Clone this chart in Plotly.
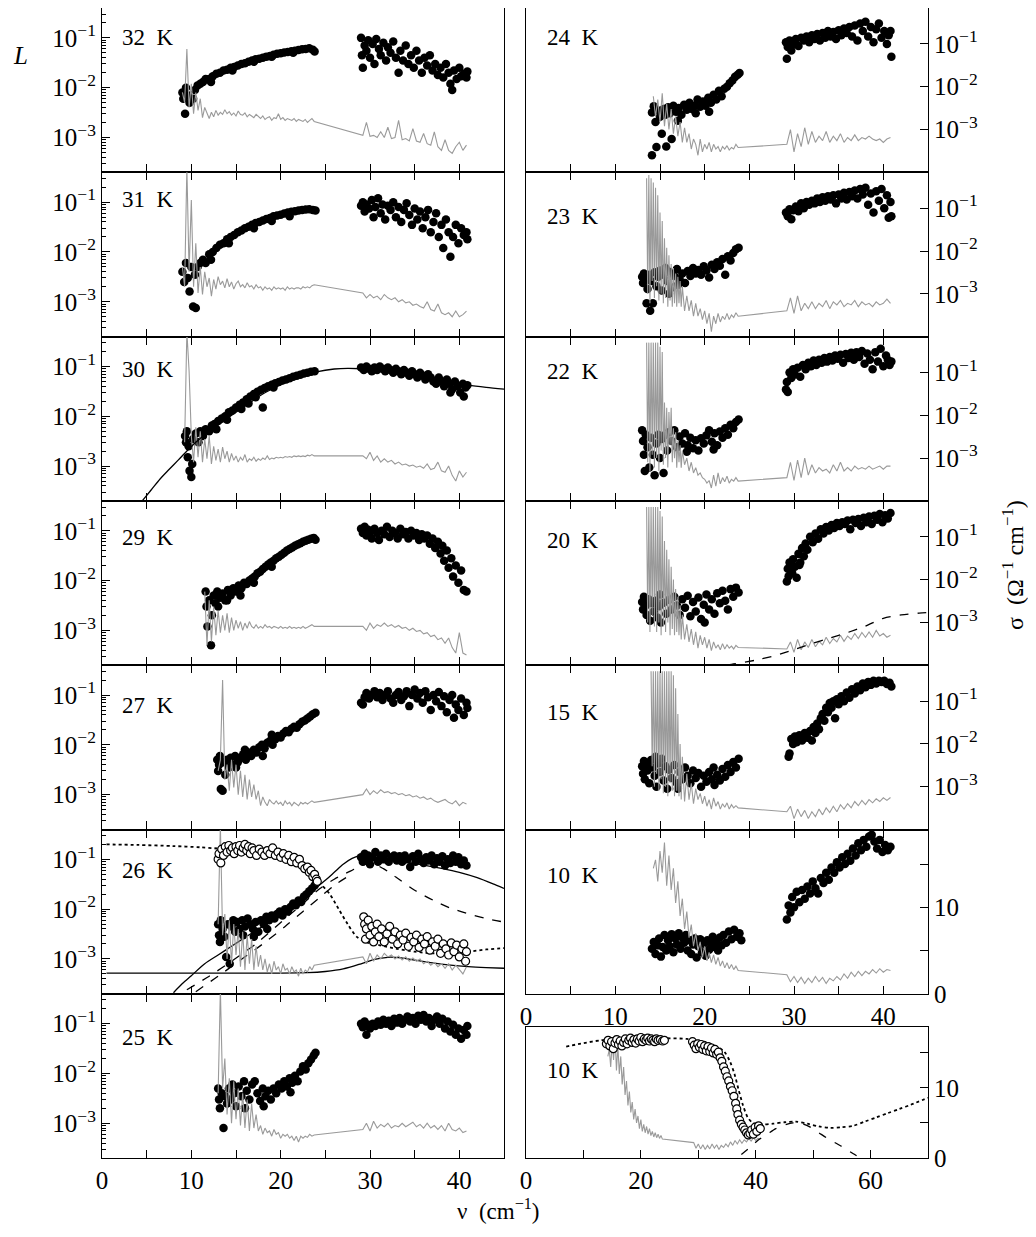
import plotly.graph_objects as go

# ---------------- shared frequency grids of the spectra (cm^-1) ----------------
GA = [9.0, 9.25, 9.5, 9.75, 10.0, 10.25, 10.5, 10.75, 11.0, 11.25, 11.5, 11.75, 12.0, 12.25,
      12.5, 12.75, 13.0, 13.25, 13.5, 13.75, 14.0, 14.25, 14.5, 14.75, 15.0, 15.25, 15.5, 15.75,
      16.0, 16.25, 16.5, 16.75, 17.0, 17.25, 17.5, 17.75, 18.0, 18.25, 18.5, 18.75, 19.0, 19.25,
      19.5, 19.75, 20.0, 20.25, 20.5, 20.75, 21.0, 21.25, 21.5, 21.75, 22.0, 22.25, 22.5, 22.75,
      23.0, 23.25, 23.5, 23.75]
# finer grid used where the low-temperature spectra oscillate strongly
GAF = [13.5, 13.625, 13.75, 13.875, 14.0, 14.125, 14.25, 14.375, 14.5, 14.625, 14.75, 14.875,
       15.0, 15.125, 15.25, 15.375, 15.5, 15.625, 15.75, 15.875, 16.0, 16.125, 16.25, 16.375,
       16.5, 16.625, 16.75, 16.875, 17.0, 17.125, 17.25, 17.375, 17.5, 17.75, 18.0, 18.25, 18.5,
       18.75, 19.0, 19.25, 19.5, 19.75, 20.0, 20.25, 20.5, 20.75, 21.0, 21.25, 21.5, 21.75, 22.0,
       22.25, 22.5, 22.75, 23.0, 23.25, 23.5, 23.75]
GB = [29.2, 29.6, 30.0, 30.4, 30.8, 31.2, 31.6, 32.0, 32.4, 32.8, 33.2, 33.6, 34.0, 34.4, 34.8,
      35.2, 35.6, 36.0, 36.4, 36.8, 37.2, 37.6, 38.0, 38.4, 38.8, 39.2, 39.6, 40.0, 40.4, 40.8]

# ---------------- 32 K ----------------
K32_LO = [(9.0, 8e-3), (9.1, 6e-3), (9.3, 3e-3), (9.4, 1e-2), (9.6, 7e-3), (9.8, 5e-3), (10.2, 6e-3),
          (10.4, 9e-3), (10.7, 1.1e-2), (11.0, 1.2e-2), (11.3, 1.3e-2), (11.6, 1.5e-2), (12.0, 1.5e-2),
          (12.2, 1.3e-2), (12.4, 1.7e-2), (12.8, 1.9e-2), (13.2, 2.0e-2), (13.6, 2.2e-2), (14.0, 2.3e-2),
          (14.4, 2.5e-2), (14.6, 2.2e-2), (14.8, 2.6e-2), (15.2, 2.8e-2), (15.6, 3.0e-2), (16.0, 3.1e-2),
          (16.4, 3.3e-2), (16.8, 3.5e-2), (17.0, 3.3e-2), (17.2, 3.7e-2), (17.6, 3.8e-2), (18.0, 4.0e-2),
          (18.4, 4.2e-2), (18.8, 4.3e-2), (19.0, 4.2e-2), (19.2, 4.6e-2), (19.6, 4.8e-2), (20.0, 4.9e-2),
          (20.4, 5.1e-2), (20.8, 5.2e-2), (21.2, 5.4e-2), (21.4, 5.0e-2), (21.6, 5.5e-2), (22.0, 5.7e-2),
          (22.4, 5.9e-2), (22.8, 6.0e-2), (23.2, 6.2e-2), (23.6, 5.8e-2), (23.8, 5.3e-2)]
K32_HI = [(29.0, 0.10), (29.1, 0.045), (29.2, 0.025), (29.4, 0.07), (29.6, 0.055), (29.8, 0.09),
          (30.0, 0.04), (30.3, 0.075), (30.5, 0.03), (30.7, 0.095), (31.0, 0.06), (31.2, 0.045),
          (31.5, 0.08), (31.8, 0.035), (32.0, 0.065), (32.3, 0.05), (32.6, 0.085), (32.9, 0.04),
          (33.2, 0.02), (33.4, 0.055), (33.7, 0.035), (34.0, 0.07), (34.3, 0.03), (34.6, 0.045),
          (34.9, 0.025), (35.2, 0.055), (35.5, 0.035), (35.8, 0.02), (36.1, 0.04), (36.4, 0.028),
          (36.7, 0.045), (37.0, 0.022), (37.3, 0.03), (37.6, 0.018), (37.9, 0.025), (38.2, 0.016),
          (38.5, 0.03), (38.8, 0.02), (39.0, 0.012), (39.2, 0.009), (39.4, 0.022), (39.7, 0.015),
          (40.0, 0.025), (40.2, 0.017), (40.5, 0.019), (40.8, 0.016), (40.9, 0.021)]
K32_GA = [8e-3, 5e-3, 6e-2, 4e-3, 1.2e-2, 3e-3, 8e-3, 3.5e-3, 6e-3, 2.5e-3, 4e-3, 3e-3, 2.4e-3, 3.2e-3,
          2.6e-3, 3.5e-3, 2.8e-3, 3.2e-3, 2.9e-3, 3.6e-3, 3.0e-3, 3.3e-3, 2.8e-3, 3.1e-3, 2.7e-3, 3.4e-3,
          2.9e-3, 2.8e-3, 3.1e-3, 2.6e-3, 2.9e-3, 2.7e-3, 2.5e-3, 2.9e-3, 2.6e-3, 2.4e-3, 2.7e-3, 2.3e-3,
          2.5e-3, 2.6e-3, 2.2e-3, 2.5e-3, 2.4e-3, 3.0e-3, 2.3e-3, 2.5e-3, 2.2e-3, 2.4e-3, 2.3e-3, 2.2e-3,
          2.4e-3, 2.1e-3, 2.3e-3, 2.2e-3, 2.1e-3, 2.3e-3, 2.0e-3, 2.2e-3, 2.4e-3, 2.1e-3]
K32_GB = [1.1e-3, 2.0e-3, 1.05e-3, 1.1e-3, 1.0e-3, 1.3e-3, 1.0e-3, 1.6e-3, 9.5e-4, 1.0e-3, 2.2e-3,
          9e-4, 9.5e-4, 8.5e-4, 1.5e-3, 8.5e-4, 8e-4, 1.2e-3, 7.5e-4, 7e-4, 1.3e-3, 6.5e-4, 5.5e-4,
          9e-4, 5.5e-4, 4.8e-4, 6.5e-4, 8e-4, 5.5e-4, 7e-4]

# ---------------- 31 K ----------------
K31_LO = [(9.0, 4e-3), (9.2, 2.5e-3), (9.4, 6e-3), (9.6, 3e-3), (9.8, 1.6e-3), (10.0, 5e-3),
          (10.2, 8e-4), (10.4, 3.5e-3), (10.5, 7.5e-4), (10.7, 5e-3), (11.0, 6e-3), (11.3, 7e-3),
          (11.6, 6e-3), (12.0, 9e-3), (12.2, 7e-3), (12.4, 1.0e-2), (12.8, 1.2e-2), (13.2, 1.4e-2),
          (13.6, 1.5e-2), (14.0, 1.8e-2), (14.2, 1.5e-2), (14.4, 2.0e-2), (14.8, 2.2e-2), (15.2, 2.5e-2),
          (15.6, 2.7e-2), (16.0, 3.0e-2), (16.4, 3.2e-2), (16.8, 3.5e-2), (17.0, 3.0e-2), (17.2, 3.8e-2),
          (17.6, 4.0e-2), (18.0, 4.3e-2), (18.4, 4.6e-2), (18.8, 4.8e-2), (19.0, 4.2e-2), (19.2, 5.2e-2),
          (19.6, 5.4e-2), (20.0, 5.6e-2), (20.4, 5.9e-2), (20.8, 6.2e-2), (21.0, 5.2e-2), (21.2, 6.4e-2),
          (21.6, 6.6e-2), (22.0, 6.8e-2), (22.4, 7.0e-2), (22.8, 7.1e-2), (23.2, 7.2e-2), (23.6, 7.0e-2),
          (23.9, 6.8e-2)]
K31_HI = [(29.0, 0.085), (29.2, 0.10), (29.4, 0.065), (29.6, 0.09), (29.9, 0.075), (30.2, 0.11),
          (30.4, 0.05), (30.6, 0.08), (30.9, 0.12), (31.2, 0.06), (31.4, 0.09), (31.7, 0.045),
          (32.0, 0.085), (32.3, 0.07), (32.6, 0.1), (32.9, 0.05), (33.2, 0.08), (33.5, 0.04),
          (33.8, 0.07), (34.1, 0.095), (34.4, 0.055), (34.7, 0.035), (35.0, 0.075), (35.3, 0.045),
          (35.6, 0.065), (35.9, 0.03), (36.2, 0.05), (36.5, 0.07), (36.8, 0.025), (37.1, 0.04),
          (37.4, 0.06), (37.7, 0.02), (38.0, 0.035), (38.2, 0.012), (38.5, 0.045), (38.8, 0.025),
          (39.0, 0.008), (39.3, 0.02), (39.6, 0.035), (39.9, 0.015), (40.2, 0.03), (40.5, 0.022),
          (40.8, 0.025), (40.9, 0.018)]
K31_GA = [5e-3, 2e-3, 0.5, 4e-3, 0.11, 2e-3, 1.5e-2, 1.5e-3, 5e-3, 1.4e-3, 4e-3, 2e-3, 3e-3, 1.3e-3,
          2.8e-3, 1.8e-3, 3.2e-3, 2.2e-3, 2.6e-3, 1.9e-3, 2.9e-3, 2.0e-3, 2.5e-3, 1.8e-3, 2.3e-3, 2.6e-3,
          2.0e-3, 2.2e-3, 1.9e-3, 2.4e-3, 2.0e-3, 2.1e-3, 1.8e-3, 2.2e-3, 1.9e-3, 2.0e-3, 1.7e-3, 2.0e-3,
          1.8e-3, 1.9e-3, 1.7e-3, 2.0e-3, 1.8e-3, 1.9e-3, 1.8e-3, 1.9e-3, 1.7e-3, 2.0e-3, 1.8e-3, 1.9e-3,
          1.8e-3, 1.9e-3, 1.9e-3, 1.8e-3, 2.0e-3, 1.9e-3, 2.0e-3, 1.9e-3, 2.1e-3, 2.2e-3]
K31_GB = [1.5e-3, 1.2e-3, 1.4e-3, 1.2e-3, 1.3e-3, 1.1e-3, 1.4e-3, 1.2e-3, 1.1e-3, 1.2e-3, 1.0e-3,
          1.1e-3, 9.5e-4, 1.0e-3, 8.5e-4, 9e-4, 8e-4, 7.5e-4, 1.0e-3, 7e-4, 6.5e-4, 9e-4, 6e-4, 5.5e-4,
          6e-4, 5e-4, 6.5e-4, 5e-4, 5.5e-4, 6.5e-4]

# ---------------- 30 K ----------------
K30_LO = [(9.3, 4e-3), (9.4, 3e-3), (9.5, 5e-3), (9.6, 1.5e-3), (9.7, 2.5e-3), (9.8, 8e-4),
          (10.0, 6e-4), (10.1, 1.1e-3), (10.2, 3.5e-3), (10.5, 4.5e-3), (10.8, 3e-3), (11.0, 5e-3),
          (11.3, 4e-3), (11.6, 5.5e-3), (12.0, 5e-3), (12.3, 6.5e-3), (12.6, 7e-3), (12.8, 5.5e-3),
          (13.0, 8e-3), (13.4, 9e-3), (13.8, 1.0e-2), (14.0, 8.5e-3), (14.2, 1.2e-2), (14.6, 1.3e-2),
          (15.0, 1.5e-2), (15.4, 1.7e-2), (15.6, 1.4e-2), (15.8, 1.9e-2), (16.2, 2.2e-2), (16.4, 1.8e-2),
          (16.6, 2.5e-2), (17.0, 2.8e-2), (17.2, 2.4e-2), (17.4, 3.1e-2), (17.8, 3.4e-2), (18.0, 1.5e-2),
          (18.2, 3.7e-2), (18.6, 4.0e-2), (19.0, 4.3e-2), (19.2, 3.8e-2), (19.4, 4.6e-2), (19.8, 4.9e-2),
          (20.2, 5.2e-2), (20.6, 5.5e-2), (21.0, 5.8e-2), (21.4, 6.2e-2), (21.8, 6.5e-2), (22.2, 6.8e-2),
          (22.6, 7.2e-2), (23.0, 7.5e-2), (23.4, 7.8e-2), (23.8, 8.0e-2)]
K30_HI = [(29.0, 0.095), (29.3, 0.085), (29.6, 0.1), (29.9, 0.09), (30.2, 0.08), (30.5, 0.095),
          (30.8, 0.085), (31.1, 0.1), (31.4, 0.09), (31.7, 0.08), (32.0, 0.095), (32.3, 0.085),
          (32.6, 0.075), (32.9, 0.09), (33.2, 0.08), (33.5, 0.07), (33.8, 0.085), (34.1, 0.075),
          (34.4, 0.065), (34.7, 0.08), (35.0, 0.07), (35.3, 0.06), (35.6, 0.075), (35.9, 0.065),
          (36.2, 0.055), (36.5, 0.07), (36.8, 0.06), (37.1, 0.05), (37.4, 0.045), (37.7, 0.06),
          (38.0, 0.05), (38.3, 0.04), (38.6, 0.055), (38.9, 0.045), (39.0, 0.03), (39.2, 0.035),
          (39.5, 0.05), (39.8, 0.04), (40.1, 0.03), (40.4, 0.045), (40.5, 0.025), (40.7, 0.038),
          (40.9, 0.042)]
K30_GA = [3e-3, 0.5, 0.08, 4e-3, 1.2e-3, 6e-3, 1.5e-3, 5e-3, 1.2e-3, 3.5e-3, 1.4e-3, 4e-3, 1.1e-3,
          2.5e-3, 1.3e-3, 2.2e-3, 1.2e-3, 2.4e-3, 1.4e-3, 2.0e-3, 1.2e-3, 1.8e-3, 1.3e-3, 1.6e-3, 1.2e-3,
          1.5e-3, 1.3e-3, 1.7e-3, 1.2e-3, 1.4e-3, 1.3e-3, 1.5e-3, 1.25e-3, 1.4e-3, 1.3e-3, 1.45e-3,
          1.35e-3, 1.6e-3, 1.35e-3, 1.45e-3, 1.4e-3, 1.5e-3, 1.45e-3, 1.5e-3, 1.45e-3, 1.55e-3, 1.5e-3,
          1.55e-3, 1.5e-3, 1.6e-3, 1.55e-3, 1.6e-3, 1.55e-3, 1.6e-3, 1.55e-3, 1.65e-3, 1.6e-3, 1.7e-3,
          1.6e-3]
K30_GB = [1.6e-3, 1.4e-3, 1.9e-3, 1.3e-3, 1.6e-3, 1.2e-3, 1.4e-3, 1.2e-3, 1.3e-3, 1.1e-3, 1.2e-3,
          1.05e-3, 1.1e-3, 1.0e-3, 1.05e-3, 9.5e-4, 1.0e-3, 9e-4, 1.1e-3, 8.5e-4, 9e-4, 1.2e-3, 8e-4,
          7.5e-4, 1.0e-3, 6.5e-4, 5e-4, 8e-4, 6e-4, 7.5e-4]
K30_FIT = [(4.5, 2e-4), (5.5, 3.3e-4), (6.5, 5.5e-4), (7.5, 8.5e-4), (8.5, 1.3e-3), (9.5, 2.0e-3),
           (10.5, 3.0e-3), (12.0, 5e-3), (14.0, 9e-3), (16.0, 1.6e-2), (18.0, 2.8e-2), (20.0, 4.3e-2),
           (22.0, 6.2e-2), (24.0, 7.8e-2), (26.0, 8.9e-2), (27.5, 9.2e-2), (29.0, 9.0e-2), (31.0, 8.2e-2),
           (33.0, 7.2e-2), (35.0, 6.3e-2), (37.0, 5.5e-2), (39.0, 4.8e-2), (41.0, 4.2e-2), (43.0, 3.8e-2),
           (45.0, 3.5e-2)]

# ---------------- 29 K ----------------
K29_LO = [(11.6, 6e-3), (11.7, 3e-3), (11.8, 1.2e-3), (12.0, 4e-3), (12.2, 5e-4), (12.3, 2e-3),
          (12.5, 5e-3), (12.7, 3.5e-3), (12.9, 6e-3), (13.0, 3e-3), (13.2, 4.5e-3), (13.5, 5.5e-3),
          (13.8, 4e-3), (14.0, 4e-3), (14.1, 6.5e-3), (14.4, 5e-3), (14.7, 7e-3), (15.0, 6e-3),
          (15.3, 8e-3), (15.5, 5e-3), (15.6, 7e-3), (15.9, 9e-3), (16.2, 8.5e-3), (16.5, 1.0e-2),
          (16.8, 1.1e-2), (17.0, 9e-3), (17.1, 1.2e-2), (17.4, 1.4e-2), (17.7, 1.5e-2), (18.0, 1.7e-2),
          (18.3, 1.9e-2), (18.6, 2.1e-2), (18.9, 2.3e-2), (19.0, 1.9e-2), (19.2, 2.5e-2), (19.5, 2.8e-2),
          (19.8, 3.0e-2), (20.1, 3.3e-2), (20.4, 3.6e-2), (20.7, 4.0e-2), (21.0, 4.3e-2), (21.3, 4.6e-2),
          (21.6, 5.0e-2), (21.9, 5.3e-2), (22.2, 5.6e-2), (22.5, 6.0e-2), (22.8, 6.3e-2), (23.1, 6.6e-2),
          (23.4, 6.9e-2), (23.7, 7.2e-2), (23.9, 6.6e-2)]
K29_HI = [(29.0, 0.11), (29.2, 0.09), (29.4, 0.12), (29.6, 0.08), (29.8, 0.105), (30.0, 0.095),
          (30.2, 0.07), (30.5, 0.11), (30.8, 0.09), (31.0, 0.065), (31.3, 0.1), (31.6, 0.085),
          (31.9, 0.12), (32.2, 0.075), (32.5, 0.1), (32.8, 0.09), (33.1, 0.07), (33.4, 0.11),
          (33.7, 0.085), (34.0, 0.095), (34.3, 0.07), (34.6, 0.1), (34.9, 0.08), (35.2, 0.09),
          (35.5, 0.065), (35.8, 0.085), (36.1, 0.07), (36.4, 0.08), (36.7, 0.055), (37.0, 0.07),
          (37.3, 0.045), (37.6, 0.06), (37.9, 0.035), (38.1, 0.05), (38.3, 0.025), (38.6, 0.04),
          (38.8, 0.018), (39.1, 0.028), (39.3, 0.012), (39.6, 0.02), (39.9, 0.009), (40.2, 0.016),
          (40.5, 0.0065), (40.8, 0.006)]
K29_GA = [6e-3, 5e-4, 4e-3, 6e-4, 3e-3, 8e-4, 2.5e-3, 9e-4, 2e-3, 1e-3, 2.2e-3, 9e-4, 1.8e-3, 1.0e-3,
          1.6e-3, 1.1e-3, 1.5e-3, 1.0e-3, 1.4e-3, 1.1e-3, 1.5e-3, 1.2e-3, 1.1e-3, 1.3e-3, 1.1e-3, 1.2e-3,
          1.1e-3, 1.3e-3, 1.15e-3, 1.2e-3, 1.1e-3, 1.2e-3, 1.15e-3, 1.1e-3, 1.2e-3, 1.1e-3, 1.15e-3,
          1.1e-3, 1.2e-3, 1.1e-3, 1.15e-3, 1.1e-3, 1.15e-3, 1.1e-3, 1.2e-3, 1.1e-3, 1.15e-3, 1.2e-3,
          1.3e-3, 1.2e-3]
K29_GB = [1.2e-3, 1.0e-3, 1.4e-3, 1.1e-3, 1.3e-3, 1.2e-3, 1.4e-3, 1.2e-3, 1.3e-3, 1.15e-3, 1.25e-3,
          1.1e-3, 1.15e-3, 1.0e-3, 1.1e-3, 9.5e-4, 1.0e-3, 8.5e-4, 9e-4, 7.5e-4, 8e-4, 6.5e-4, 7e-4,
          5.5e-4, 7e-4, 4.5e-4, 3.5e-4, 9e-4, 3.5e-4, 3.2e-4]

# ---------------- 27 K ----------------
K27_LO = [(12.9, 5e-3), (13.0, 3e-3), (13.1, 4e-3), (13.2, 6e-3), (13.3, 1.3e-3), (13.5, 1.2e-3),
          (13.6, 4.5e-3), (13.8, 2.5e-3), (14.0, 5e-3), (14.2, 3.5e-3), (14.4, 5.5e-3), (14.6, 4e-3),
          (14.9, 6e-3), (15.0, 3.5e-3), (15.2, 4.5e-3), (15.5, 5.5e-3), (15.8, 6.5e-3), (16.0, 8e-3),
          (16.1, 5e-3), (16.4, 7e-3), (16.7, 6e-3), (17.0, 8e-3), (17.3, 7e-3), (17.6, 9e-3),
          (17.9, 1.0e-2), (18.0, 6e-3), (18.2, 8.5e-3), (18.5, 1.1e-2), (18.8, 1.2e-2), (19.0, 1.6e-2),
          (19.1, 1.0e-2), (19.4, 1.3e-2), (19.7, 1.5e-2), (20.0, 1.4e-2), (20.3, 1.7e-2), (20.6, 1.9e-2),
          (20.9, 1.8e-2), (21.2, 2.1e-2), (21.5, 2.3e-2), (21.8, 2.2e-2), (22.1, 2.6e-2), (22.4, 2.9e-2),
          (22.7, 3.1e-2), (23.0, 3.4e-2), (23.3, 3.7e-2), (23.6, 4.1e-2), (23.9, 4.4e-2)]
K27_HI = [(29.0, 0.07), (29.2, 0.065), (29.4, 0.09), (29.6, 0.11), (29.9, 0.085), (30.2, 0.1),
          (30.5, 0.12), (30.8, 0.09), (31.1, 0.11), (31.4, 0.08), (31.7, 0.1), (32.0, 0.12),
          (32.3, 0.085), (32.6, 0.07), (32.9, 0.1), (33.2, 0.115), (33.5, 0.08), (33.8, 0.095),
          (34.1, 0.12), (34.4, 0.06), (34.7, 0.1), (35.0, 0.13), (35.3, 0.085), (35.6, 0.11),
          (35.9, 0.07), (36.2, 0.12), (36.5, 0.09), (36.8, 0.05), (37.1, 0.1), (37.4, 0.075),
          (37.7, 0.115), (38.0, 0.06), (38.3, 0.095), (38.6, 0.045), (38.9, 0.08), (39.2, 0.1),
          (39.4, 0.035), (39.6, 0.065), (39.9, 0.05), (40.2, 0.085), (40.5, 0.04), (40.8, 0.07),
          (40.9, 0.055)]
K27_GA = [3e-3, 5e-3, 0.2, 2e-3, 4e-3, 1.2e-3, 5e-3, 1.4e-3, 4e-3, 1.0e-3, 3e-3, 9e-4, 2.5e-3, 8e-4,
          2e-3, 9e-4, 1.6e-3, 8e-4, 1.2e-3, 6e-4, 9e-4, 7e-4, 6e-4, 8e-4, 7e-4, 6.5e-4, 7.5e-4, 6.5e-4,
          7e-4, 6e-4, 7.5e-4, 6.5e-4, 7e-4, 6e-4, 7e-4, 6.5e-4, 6e-4, 7e-4, 6.5e-4, 7e-4, 6.5e-4, 7e-4,
          7.5e-4, 7e-4]
K27_GB = [1.0e-3, 1.3e-3, 1.0e-3, 1.2e-3, 1.05e-3, 1.25e-3, 1.1e-3, 1.15e-3, 1.05e-3, 1.1e-3, 1.0e-3,
          1.05e-3, 9.5e-4, 1.0e-3, 9e-4, 9.5e-4, 8.5e-4, 9e-4, 8e-4, 8.5e-4, 7.5e-4, 7e-4, 7.5e-4,
          8e-4, 7e-4, 6.5e-4, 7.5e-4, 6e-4, 7e-4, 6.5e-4]

# ---------------- 26 K ----------------
K26_LO = [(13.0, 5e-3), (13.1, 3e-3), (13.2, 2.2e-3), (13.3, 6e-3), (13.5, 4e-3), (13.7, 2.8e-3),
          (13.9, 1.1e-3), (14.1, 5e-3), (14.3, 8e-4), (14.5, 4.5e-3), (14.7, 6e-3), (14.9, 3.5e-3),
          (15.1, 5.5e-3), (15.4, 4e-3), (15.7, 6e-3), (15.8, 3e-3), (16.0, 4.5e-3), (16.3, 6.5e-3),
          (16.6, 5e-3), (16.9, 4e-3), (17.0, 2.8e-3), (17.2, 5.5e-3), (17.5, 3.5e-3), (17.8, 6e-3),
          (18.1, 5e-3), (18.4, 7e-3), (18.5, 4e-3), (18.7, 6e-3), (19.0, 7.5e-3), (19.3, 6.5e-3),
          (19.6, 8e-3), (19.9, 9e-3), (20.2, 7.5e-3), (20.5, 1.0e-2), (20.8, 9e-3), (21.1, 1.1e-2),
          (21.4, 1.3e-2), (21.7, 1.2e-2), (22.0, 1.5e-2), (22.3, 1.4e-2), (22.6, 1.8e-2), (22.9, 2.0e-2),
          (23.2, 2.3e-2), (23.5, 2.6e-2), (23.8, 3.0e-2), (24.0, 3.4e-2)]
K26_HI = [(29.0, 0.11), (29.2, 0.09), (29.4, 0.13), (29.6, 0.1), (29.8, 0.12), (30.0, 0.08),
          (30.3, 0.11), (30.6, 0.14), (30.9, 0.09), (31.2, 0.12), (31.5, 0.1), (31.8, 0.13),
          (32.1, 0.09), (32.4, 0.11), (32.7, 0.12), (33.0, 0.095), (33.3, 0.115), (33.6, 0.09),
          (33.9, 0.12), (34.2, 0.1), (34.5, 0.07), (34.8, 0.115), (35.1, 0.09), (35.4, 0.13),
          (35.7, 0.1), (36.0, 0.085), (36.3, 0.11), (36.6, 0.095), (36.9, 0.12), (37.2, 0.08),
          (37.5, 0.105), (37.8, 0.09), (38.1, 0.115), (38.4, 0.075), (38.7, 0.1), (39.0, 0.085),
          (39.3, 0.12), (39.6, 0.09), (39.9, 0.11), (40.2, 0.08), (40.5, 0.095), (40.8, 0.075)]
K26_OPEN_LO = [(13.0, 0.1), (13.1, 0.13), (13.3, 0.085), (13.4, 0.16), (13.6, 0.12), (13.8, 0.18),
               (14.0, 0.14), (14.2, 0.19), (14.4, 0.15), (14.6, 0.17), (14.8, 0.13), (15.0, 0.18),
               (15.2, 0.15), (15.4, 0.19), (15.6, 0.14), (15.8, 0.17), (16.0, 0.2), (16.2, 0.15),
               (16.4, 0.18), (16.6, 0.13), (16.8, 0.17), (17.0, 0.15), (17.3, 0.12), (17.6, 0.16),
               (17.9, 0.14), (18.2, 0.12), (18.5, 0.15), (18.8, 0.13), (19.1, 0.17), (19.4, 0.12),
               (19.7, 0.14), (20.0, 0.11), (20.3, 0.13), (20.6, 0.1), (20.9, 0.12), (21.2, 0.09),
               (21.5, 0.11), (21.8, 0.085), (22.1, 0.1), (22.4, 0.075), (22.7, 0.065), (23.0, 0.07),
               (23.2, 0.055), (23.4, 0.06), (23.6, 0.045), (23.8, 0.05), (24.0, 0.04), (24.1, 0.036)]
K26_OPEN_HI = [(29.3, 7e-3), (29.4, 5e-3), (29.5, 2.5e-3), (29.6, 4e-3), (29.8, 6e-3), (30.0, 3e-3),
               (30.2, 4.5e-3), (30.4, 2.2e-3), (30.6, 3.5e-3), (30.8, 5e-3), (31.0, 2.8e-3), (31.3, 4e-3),
               (31.6, 2.2e-3), (31.9, 3.2e-3), (32.2, 4.5e-3), (32.5, 2.5e-3), (32.8, 3.5e-3), (33.1, 2e-3),
               (33.4, 3e-3), (33.7, 2.4e-3), (34.0, 3.3e-3), (34.3, 1.8e-3), (34.6, 2.7e-3), (34.9, 2.2e-3),
               (35.2, 3e-3), (35.5, 1.7e-3), (35.8, 2.5e-3), (36.1, 2e-3), (36.4, 2.8e-3), (36.7, 1.5e-3),
               (37.0, 2.2e-3), (37.3, 1.8e-3), (37.6, 2.5e-3), (37.9, 1.3e-3), (38.2, 2e-3), (38.5, 1.6e-3),
               (38.8, 1.2e-3), (39.1, 2.1e-3), (39.4, 1.4e-3), (39.7, 1.9e-3), (40.0, 1.1e-3), (40.3, 1.6e-3),
               (40.5, 2e-3), (40.7, 9e-4), (40.8, 1.4e-3)]
K26_GA = [5e-3, 0.5, 3e-3, 8e-3, 1e-3, 6e-3, 8e-4, 5e-3, 1.2e-3, 4e-3, 7e-4, 3.5e-3, 6e-4, 3e-3, 8e-4,
          2.5e-3, 6e-4, 1.8e-3, 7e-4, 1.2e-3, 6e-4, 1.0e-3, 5.5e-4, 8e-4, 5e-4, 9e-4, 6e-4, 7e-4, 5e-4,
          8e-4, 6e-4, 6.5e-4, 5e-4, 7e-4, 5.5e-4, 6e-4, 4.5e-4, 6.5e-4, 5e-4, 6e-4, 5.5e-4, 7e-4, 6e-4,
          7.5e-4]
K26_GB = [1.1e-3, 8e-4, 1.3e-3, 9e-4, 1.2e-3, 1.0e-3, 1.3e-3, 1.1e-3, 1.2e-3, 1.0e-3, 1.15e-3, 9.5e-4,
          1.1e-3, 9e-4, 1.05e-3, 9e-4, 1.0e-3, 8e-4, 9e-4, 7.5e-4, 8.5e-4, 7e-4, 8e-4, 6.5e-4, 8e-4,
          6e-4, 7.5e-4, 6e-4, 5e-4, 7e-4]
K26_DOTTED = [(0.5, 0.2), (4.0, 0.195), (8.0, 0.185), (11.0, 0.175), (13.0, 0.165), (15.0, 0.155),
              (17.0, 0.14), (19.0, 0.125), (21.0, 0.1), (22.5, 0.075), (23.5, 0.05), (24.5, 0.032),
              (25.5, 0.02), (26.5, 0.01), (27.5, 5e-3), (28.5, 2.8e-3), (29.5, 2.2e-3), (31.0, 1.9e-3),
              (33.0, 1.6e-3), (35.0, 1.4e-3), (37.0, 1.3e-3), (39.0, 1.3e-3), (41.0, 1.4e-3),
              (43.0, 1.55e-3), (45.0, 1.65e-3)]
K26_FIT = [(8.0, 2.1e-4), (9.0, 3.2e-4), (10.0, 4.6e-4), (11.5, 8e-4), (13.0, 1.2e-3), (14.5, 1.8e-3),
           (16.0, 2.7e-3), (17.5, 4e-3), (19.0, 5.8e-3), (20.5, 8.5e-3), (22.0, 1.4e-2), (23.5, 2.3e-2),
           (25.0, 3.8e-2), (26.0, 5.5e-2), (27.0, 8e-2), (28.0, 0.105), (29.0, 0.12), (30.0, 0.115),
           (32.0, 0.1), (34.0, 0.088), (36.0, 0.077), (38.0, 0.066), (40.0, 0.055), (42.0, 0.043),
           (44.0, 0.031), (45.0, 0.026)]
K26_DASH1 = [(9.5, 2.4e-4), (12.0, 4.5e-4), (14.7, 9.5e-4), (17.5, 2.2e-3), (20.3, 6e-3), (22.5, 1.3e-2),
             (24.4, 2.6e-2), (26.0, 4e-2), (27.8, 5.8e-2), (29.0, 7.5e-2), (30.2, 8.3e-2), (31.5, 6.5e-2),
             (33.4, 3.8e-2), (35.0, 2.4e-2), (37.1, 1.5e-2), (39.0, 1.05e-2), (40.8, 8.3e-3),
             (43.0, 6.5e-3), (45.0, 5.5e-3)]
K26_DASH2 = [(10.5, 2.2e-4), (13.0, 4.5e-4), (15.5, 9.5e-4), (18.0, 2e-3), (20.5, 4.5e-3), (22.5, 9e-3),
             (24.5, 1.8e-2), (26.0, 3e-2), (27.5, 4.5e-2)]
K26_BASE = [(0.5, 5.2e-4), (10.0, 5.2e-4), (20.0, 5.2e-4), (23.0, 5.3e-4), (25.0, 5.6e-4), (27.0, 6.3e-4),
            (29.0, 8e-4), (30.5, 9.8e-4), (32.0, 1.08e-3), (33.5, 1.05e-3), (35.0, 9.5e-4), (37.0, 8.3e-4),
            (39.0, 7.5e-4), (41.0, 7e-4), (43.0, 6.7e-4), (45.0, 6.5e-4)]

# ---------------- 25 K ----------------
K25_LO = [(13.0, 5e-3), (13.1, 3e-3), (13.2, 2e-3), (13.4, 4e-3), (13.6, 8e-4), (13.8, 3.5e-3),
          (14.0, 2.5e-3), (14.2, 5e-3), (14.4, 3e-3), (14.6, 6e-3), (14.8, 4e-3), (15.0, 2.2e-3),
          (15.3, 5.5e-3), (15.6, 3.5e-3), (15.9, 7e-3), (16.0, 2e-3), (16.2, 4.5e-3), (16.5, 3e-3),
          (16.8, 6e-3), (17.1, 7e-3), (17.4, 4e-3), (17.7, 2.8e-3), (18.0, 5e-3), (18.1, 2.2e-3),
          (18.3, 3.5e-3), (18.6, 4.5e-3), (18.9, 3e-3), (19.2, 5e-3), (19.5, 4e-3), (19.8, 6e-3),
          (20.1, 5e-3), (20.4, 7e-3), (20.7, 5.5e-3), (21.0, 8e-3), (21.1, 4.2e-3), (21.3, 6.5e-3),
          (21.6, 9e-3), (21.9, 7e-3), (22.2, 1.1e-2), (22.5, 1.4e-2), (22.8, 1.2e-2), (23.1, 1.6e-2),
          (23.4, 1.9e-2), (23.7, 2.3e-2), (23.9, 2.6e-2)]
K25_HI = [(29.0, 0.1), (29.2, 0.085), (29.4, 0.11), (29.6, 0.06), (29.8, 0.095), (30.0, 0.08),
          (30.3, 0.1), (30.6, 0.09), (30.9, 0.11), (31.2, 0.095), (31.5, 0.12), (31.8, 0.1),
          (32.1, 0.115), (32.4, 0.09), (32.7, 0.125), (33.0, 0.105), (33.3, 0.13), (33.6, 0.1),
          (33.9, 0.12), (34.2, 0.14), (34.5, 0.11), (34.8, 0.13), (35.1, 0.1), (35.4, 0.145),
          (35.7, 0.12), (36.0, 0.15), (36.3, 0.11), (36.6, 0.13), (36.9, 0.09), (37.2, 0.12),
          (37.5, 0.14), (37.8, 0.1), (38.1, 0.125), (38.4, 0.08), (38.7, 0.11), (39.0, 0.07),
          (39.3, 0.095), (39.6, 0.06), (39.9, 0.08), (40.2, 0.05), (40.5, 0.075), (40.8, 0.06),
          (40.9, 0.09)]
K25_GA = [4e-3, 0.5, 5e-3, 2e-2, 1.5e-3, 8e-3, 1e-3, 7e-3, 1.2e-3, 5e-3, 9e-4, 4e-3, 8e-4, 3e-3, 7e-4,
          2.5e-3, 8e-4, 1.5e-3, 7e-4, 9e-4, 6e-4, 8e-4, 6.5e-4, 7e-4, 5.5e-4, 7.5e-4, 6e-4, 6.5e-4, 5e-4,
          6e-4, 5.5e-4, 6e-4, 5e-4, 5.5e-4, 4.5e-4, 5.5e-4, 4.2e-4, 5.5e-4, 5e-4, 5.5e-4, 5.2e-4, 6e-4,
          5.5e-4, 5.8e-4]
K25_GB = [7.5e-4, 1.0e-3, 7e-4, 1.1e-3, 8e-4, 9.5e-4, 8.5e-4, 1.0e-3, 8e-4, 9e-4, 8.5e-4, 1.0e-3, 8.5e-4,
          9.5e-4, 1.05e-3, 8.5e-4, 9.5e-4, 8e-4, 1.0e-3, 8e-4, 9e-4, 7.5e-4, 9e-4, 7e-4, 1.0e-3, 7.5e-4,
          7e-4, 8e-4, 6.5e-4, 7e-4]

# ---------------- 24 K ----------------
K24_LO = [(14.1, 2.5e-3), (14.1, 2.5e-4), (14.3, 3.5e-3), (14.5, 1.5e-3), (14.6, 3.9e-4), (14.8, 2.8e-3),
          (15.0, 2e-3), (15.2, 8e-4), (15.4, 3e-3), (15.6, 2.2e-3), (15.7, 4e-4), (15.9, 3.3e-3),
          (16.1, 2.4e-3), (16.3, 6e-4), (16.5, 3.6e-3), (16.8, 2.6e-3), (17.0, 1.6e-3), (17.1, 3.2e-3),
          (17.4, 2.2e-3), (17.7, 3.8e-3), (18.0, 2.9e-3), (18.3, 4.2e-3), (18.6, 3e-3), (18.9, 3.6e-3),
          (19.0, 2.4e-3), (19.2, 5e-3), (19.5, 3.4e-3), (19.8, 4.5e-3), (20.1, 3.6e-3), (20.4, 5.5e-3),
          (20.5, 2.6e-3), (20.7, 4.2e-3), (21.0, 6.5e-3), (21.3, 5e-3), (21.6, 8e-3), (21.9, 6e-3),
          (22.2, 9e-3), (22.5, 1.0e-2), (22.8, 1.2e-2), (23.1, 1.4e-2), (23.4, 1.7e-2), (23.7, 1.9e-2),
          (23.9, 2.1e-2)]
K24_HI = [(29.1, 0.11), (29.2, 0.045), (29.3, 0.085), (29.5, 0.12), (29.7, 0.07), (29.9, 0.1),
          (30.2, 0.13), (30.5, 0.09), (30.8, 0.14), (31.1, 0.12), (31.4, 0.15), (31.7, 0.11),
          (32.0, 0.16), (32.3, 0.13), (32.6, 0.17), (32.9, 0.12), (33.2, 0.18), (33.5, 0.14),
          (33.8, 0.2), (34.1, 0.15), (34.4, 0.19), (34.7, 0.13), (35.0, 0.21), (35.3, 0.16),
          (35.6, 0.23), (35.9, 0.18), (36.2, 0.25), (36.5, 0.15), (36.8, 0.27), (37.1, 0.12),
          (37.4, 0.3), (37.7, 0.2), (38.0, 0.33), (38.3, 0.15), (38.6, 0.25), (38.9, 0.11),
          (39.2, 0.22), (39.5, 0.3), (39.8, 0.14), (40.1, 0.2), (40.4, 0.1), (40.6, 0.16),
          (40.8, 0.2), (40.9, 0.05)]
K24_GA = [6e-3, 2e-3, 5e-3, 1.5e-3, 7e-3, 1.2e-3, 4e-3, 1e-3, 3e-3, 8e-4, 2e-3, 7e-4, 1.5e-3, 5e-4,
          1.1e-3, 5e-4, 8e-4, 3.5e-4, 6e-4, 4.5e-4, 2.5e-4, 6e-4, 3e-4, 4.5e-4, 3.5e-4, 5e-4, 3e-4,
          4.5e-4, 3.5e-4, 4e-4, 3e-4, 4e-4, 3.5e-4, 4.2e-4, 3.3e-4, 3.8e-4, 3.5e-4, 4.5e-4, 3.8e-4]
K24_GB = [4.5e-4, 1.0e-3, 3e-4, 8e-4, 4e-4, 1.1e-3, 4.5e-4, 9e-4, 5e-4, 7e-4, 5.5e-4, 9e-4, 5e-4,
          7e-4, 5.5e-4, 8e-4, 5e-4, 6.5e-4, 5.5e-4, 7.5e-4, 5.5e-4, 6.5e-4, 6e-4, 7e-4, 6e-4, 5.5e-4,
          6e-4, 5e-4, 6e-4, 6.5e-4]

# ---------------- 23 K ----------------
K23_LO = [(13.0, 2.5e-3), (13.1, 1.8e-3), (13.2, 3e-3), (13.4, 2.2e-3), (13.5, 6e-4), (13.6, 1.3e-3),
          (13.8, 2.8e-3), (13.9, 4e-4), (14.0, 2e-3), (14.2, 6e-4), (14.4, 3.2e-3), (14.6, 1.5e-3),
          (14.8, 2.5e-3), (15.0, 3.5e-3), (15.2, 1.2e-3), (15.4, 2.8e-3), (15.6, 4e-3), (15.8, 2e-3),
          (16.0, 3.3e-3), (16.0, 1.0e-3), (16.3, 1.4e-3), (16.6, 2.6e-3), (16.9, 3.8e-3), (17.0, 1.6e-3),
          (17.2, 2.2e-3), (17.5, 3e-3), (17.8, 1.8e-3), (18.1, 3.4e-3), (18.4, 2.6e-3), (18.7, 4e-3),
          (19.0, 3e-3), (19.3, 3.6e-3), (19.6, 2.8e-3), (19.9, 4.4e-3), (20.2, 3.5e-3), (20.5, 2.4e-3),
          (20.8, 4.8e-3), (21.1, 3.8e-3), (21.4, 5.5e-3), (21.7, 4.5e-3), (22.0, 6.5e-3), (22.3, 2.8e-3),
          (22.6, 7.5e-3), (22.9, 6e-3), (23.2, 9e-3), (23.5, 1.1e-2), (23.8, 1.2e-2)]
K23_HI = [(29.1, 0.08), (29.3, 0.065), (29.5, 0.095), (29.7, 0.055), (29.9, 0.09), (30.2, 0.11),
          (30.5, 0.085), (30.8, 0.13), (31.1, 0.1), (31.4, 0.14), (31.7, 0.12), (32.0, 0.15),
          (32.3, 0.13), (32.6, 0.17), (32.9, 0.14), (33.2, 0.18), (33.5, 0.15), (33.8, 0.19),
          (34.1, 0.16), (34.4, 0.2), (34.7, 0.13), (35.0, 0.21), (35.3, 0.17), (35.6, 0.23),
          (35.9, 0.16), (36.2, 0.24), (36.5, 0.19), (36.8, 0.26), (37.1, 0.17), (37.4, 0.28),
          (37.7, 0.21), (38.0, 0.3), (38.3, 0.12), (38.6, 0.22), (38.9, 0.08), (39.2, 0.25),
          (39.5, 0.15), (39.8, 0.28), (40.1, 0.1), (40.4, 0.2), (40.6, 0.06), (40.8, 0.14),
          (40.9, 0.065)]
K23_GA = [0.5, 1e-3, 0.6, 6e-4, 0.5, 2e-3, 0.4, 8e-4, 0.3, 1.5e-3, 0.2, 7e-4, 0.08, 1e-3, 0.05, 6e-4,
          0.02, 8e-4, 0.012, 5e-4, 8e-3, 7e-4, 5e-3, 5e-4, 4e-3, 6e-4, 3e-3, 5e-4, 2.5e-3, 6e-4, 2e-3,
          5e-4,
          1.5e-3, 4e-4, 9e-4, 4e-4, 7e-4, 3e-4, 6e-4, 3e-4, 4.5e-4, 2.5e-4, 4e-4, 2e-4, 3.5e-4, 1.3e-4,
          3e-4, 2e-4, 3.5e-4, 2.2e-4, 3e-4, 2.5e-4, 3.5e-4, 2.5e-4, 3.2e-4, 2.8e-4, 3.6e-4, 3e-4]
K23_GB = [4e-4, 8e-4, 3.5e-4, 9e-4, 4e-4, 6e-4, 4.5e-4, 6.5e-4, 4.5e-4, 6e-4, 5e-4, 7e-4, 4.5e-4,
          6.5e-4, 5.5e-4, 7e-4, 5e-4, 6e-4, 5.5e-4, 7e-4, 5e-4, 6.5e-4, 5.5e-4, 6e-4, 5e-4, 6.5e-4,
          5.5e-4, 6e-4, 7.5e-4, 6e-4]

# ---------------- 22 K ----------------
K22_LO = [(13.0, 4.5e-3), (13.1, 2.5e-3), (13.2, 1.2e-3), (13.3, 5e-4), (13.4, 3.5e-3), (13.6, 1.8e-3),
          (13.8, 6e-4), (14.0, 3e-3), (14.2, 1.2e-3), (14.4, 4e-4), (14.6, 2.2e-3), (14.8, 3.5e-3),
          (15.0, 1e-3), (15.2, 2.8e-3), (15.4, 4.5e-4), (15.6, 3.5e-3), (15.8, 1.5e-3), (16.0, 4e-3),
          (16.3, 2.5e-3), (16.6, 4.5e-3), (16.9, 1.8e-3), (17.2, 3.2e-3), (17.5, 2.2e-3), (17.8, 3.8e-3),
          (18.0, 1.4e-3), (18.1, 2e-3), (18.4, 3e-3), (18.7, 1.7e-3), (19.0, 2.6e-3), (19.3, 1.5e-3),
          (19.6, 2.9e-3), (19.9, 2.2e-3), (20.2, 3.4e-3), (20.5, 4.5e-3), (20.8, 2.4e-3), (21.0, 1.6e-3),
          (21.1, 3.8e-3), (21.4, 2e-3), (21.7, 4.2e-3), (22.0, 3e-3), (22.3, 5e-3), (22.6, 3.5e-3),
          (22.9, 6e-3), (23.2, 5e-3), (23.5, 7e-3), (23.8, 8e-3)]
K22_HI = [(29.1, 0.04), (29.2, 0.06), (29.3, 0.035), (29.5, 0.1), (29.7, 0.075), (29.9, 0.12),
          (30.1, 0.09), (30.4, 0.13), (30.7, 0.08), (31.0, 0.15), (31.3, 0.12), (31.6, 0.17),
          (31.9, 0.14), (32.2, 0.19), (32.5, 0.15), (32.8, 0.2), (33.1, 0.17), (33.4, 0.22),
          (33.7, 0.18), (34.0, 0.23), (34.3, 0.19), (34.6, 0.25), (34.9, 0.21), (35.2, 0.26),
          (35.5, 0.17), (35.8, 0.27), (36.1, 0.22), (36.4, 0.29), (36.7, 0.2), (37.0, 0.3),
          (37.3, 0.23), (37.6, 0.32), (37.9, 0.16), (38.2, 0.28), (38.5, 0.2), (38.8, 0.12),
          (39.1, 0.3), (39.4, 0.18), (39.7, 0.36), (40.0, 0.14), (40.3, 0.25), (40.5, 0.2),
          (40.7, 0.15), (40.9, 0.18)]
K22_GA = [0.5, 8e-4, 0.5, 5e-4, 0.5, 1.2e-3, 0.5, 6e-4, 0.5, 1e-3, 0.5, 5e-4, 0.4, 1.5e-3, 0.3, 7e-4,
          0.02, 1e-3, 0.015, 6e-4, 0.012, 2e-3, 0.015, 8e-4, 5e-3, 1e-3, 4e-3, 6e-4, 2.5e-3, 8e-4, 2e-3,
          6e-4,
          1.5e-3, 7e-4, 1e-3, 5e-4, 8e-4, 4.5e-4, 6e-4, 4e-4, 4.5e-4, 3.5e-4, 3.2e-4, 2.6e-4, 3e-4, 2e-4,
          4e-4, 2.2e-4, 4.5e-4, 2.5e-4, 3.5e-4, 2.8e-4, 3.8e-4, 2.6e-4, 3.2e-4, 2.9e-4, 3.5e-4, 2.9e-4]
K22_GB = [3.5e-4, 8e-4, 3e-4, 9e-4, 3.5e-4, 1.0e-3, 4e-4, 7e-4, 4.5e-4, 6e-4, 5e-4, 5.5e-4, 4.5e-4,
          7e-4, 5e-4, 8e-4, 5e-4, 6e-4, 5e-4, 6.5e-4, 5.5e-4, 6e-4, 5.5e-4, 6.5e-4, 5.5e-4, 6e-4,
          6.5e-4, 5.5e-4, 6.5e-4, 6.5e-4]

# ---------------- 20 K ----------------
K20_LO = [(13.0, 3e-3), (13.1, 2e-3), (13.2, 4e-3), (13.4, 2.5e-3), (13.5, 1.5e-3), (13.7, 3.5e-3),
          (13.9, 1.1e-3), (14.1, 2.8e-3), (14.3, 1.8e-3), (14.5, 3.2e-3), (14.7, 1.3e-3), (14.9, 2.4e-3),
          (15.0, 4.5e-3), (15.1, 1e-3), (15.4, 2.9e-3), (15.7, 1.6e-3), (16.0, 3.4e-3), (16.3, 2e-3),
          (16.6, 4e-3), (16.9, 2.5e-3), (17.2, 1.5e-3), (17.5, 3.5e-3), (17.8, 2.2e-3), (18.1, 4.2e-3),
          (18.4, 1.4e-3), (18.7, 3e-3), (19.0, 1.8e-3), (19.3, 3.8e-3), (19.6, 1.2e-3), (19.9, 2.6e-3),
          (20.0, 1e-3), (20.2, 4.5e-3), (20.5, 2e-3), (20.8, 3.5e-3), (21.1, 1.6e-3), (21.4, 4.8e-3),
          (21.7, 2.8e-3), (22.0, 5.5e-3), (22.3, 3.2e-3), (22.6, 2e-3), (22.9, 6e-3), (23.2, 4e-3),
          (23.5, 6.5e-3), (23.8, 5e-3)]
K20_HI = [(29.2, 9e-3), (29.3, 0.018), (29.4, 0.012), (29.5, 0.025), (29.7, 0.015), (29.8, 0.014),
          (29.9, 0.03), (30.1, 0.02), (30.3, 0.011), (30.5, 0.04), (30.6, 0.022), (30.7, 0.025),
          (30.9, 0.055), (31.1, 0.035), (31.3, 0.07), (31.5, 0.05), (31.8, 0.1), (32.1, 0.075),
          (32.4, 0.12), (32.7, 0.09), (33.0, 0.15), (33.3, 0.12), (33.6, 0.17), (33.9, 0.14),
          (34.2, 0.19), (34.5, 0.16), (34.8, 0.21), (35.1, 0.18), (35.4, 0.22), (35.7, 0.2),
          (36.0, 0.24), (36.3, 0.15), (36.6, 0.25), (36.9, 0.21), (37.2, 0.26), (37.5, 0.18),
          (37.8, 0.28), (38.1, 0.22), (38.4, 0.3), (38.7, 0.2), (39.0, 0.31), (39.3, 0.25),
          (39.6, 0.34), (39.9, 0.22), (40.2, 0.32), (40.5, 0.27), (40.8, 0.36)]
K20_GA = [0.5, 1e-3, 0.5, 6e-4, 0.5, 1.5e-3, 0.5, 8e-4, 0.5, 6e-4, 0.5, 1e-3, 0.4, 5e-4, 0.3, 8e-4,
          0.08, 6e-4, 0.05, 1e-3, 0.03, 5e-4, 0.02, 7e-4, 0.01, 5e-4, 6e-3, 6e-4, 4e-3, 5e-4, 2.5e-3,
          4e-4,
          1.5e-3, 4e-4, 9e-4, 3.5e-4, 7e-4, 3e-4, 6e-4, 2.5e-4, 5e-4, 3e-4, 4.5e-4, 2.5e-4, 4e-4, 2.2e-4,
          3.5e-4, 2.5e-4, 3e-4, 2.3e-4, 3.2e-4, 2.4e-4, 3e-4, 2.5e-4, 2.8e-4, 2.4e-4, 2.9e-4, 2.6e-4]
K20_GB = [2.4e-4, 3.5e-4, 2e-4, 4e-4, 2.3e-4, 3.5e-4, 2.6e-4, 4e-4, 2.7e-4, 3.6e-4, 3e-4, 4.5e-4,
          3.2e-4, 4.2e-4, 3.5e-4, 5e-4, 3.6e-4, 4.8e-4, 4e-4, 5.5e-4, 4.2e-4, 5.8e-4, 4.5e-4, 6e-4,
          4.5e-4, 6.5e-4, 4.8e-4, 5.5e-4, 4.5e-4, 5e-4]
K20_DASH = [(20.5, 1.0e-4), (23.0, 1.05e-4), (26.0, 1.35e-4), (28.0, 1.7e-4), (30.0, 2.3e-4),
            (32.0, 3.2e-4), (34.0, 4.3e-4), (36.0, 5.8e-4), (38.0, 8.2e-4), (40.0, 1.25e-3),
            (42.0, 1.5e-3), (44.0, 1.65e-3), (45.0, 1.7e-3)]

# ---------------- 15 K ----------------
K15_LO = [(13.0, 3e-3), (13.1, 2e-3), (13.2, 4e-3), (13.3, 1.5e-3), (13.5, 3.5e-3), (13.6, 2.4e-3),
          (13.8, 1.2e-3), (14.0, 4.2e-3), (14.2, 2.8e-3), (14.4, 1.8e-3), (14.5, 5e-3), (14.6, 1e-3),
          (14.8, 3.5e-3), (15.0, 2.2e-3), (15.2, 4.5e-3), (15.4, 1.4e-3), (15.6, 3e-3), (15.8, 9e-4),
          (16.0, 2.5e-3), (16.3, 1.6e-3), (16.6, 3.2e-3), (16.9, 1.2e-3), (17.0, 9e-4), (17.2, 2.2e-3),
          (17.5, 1.5e-3), (17.8, 2.8e-3), (18.1, 1.8e-3), (18.4, 1.2e-3), (18.7, 2.4e-3), (19.0, 1.6e-3),
          (19.3, 2.1e-3), (19.6, 1e-3), (19.9, 1.8e-3), (20.2, 1.3e-3), (20.5, 2.2e-3), (20.8, 1.5e-3),
          (21.0, 2.8e-3), (21.1, 1.1e-3), (21.4, 1.9e-3), (21.7, 1.4e-3), (22.0, 2.6e-3), (22.3, 1.7e-3),
          (22.6, 3.2e-3), (22.9, 2.2e-3), (23.2, 3.8e-3), (23.5, 2.8e-3), (23.8, 4.5e-3)]
K15_HI = [(29.4, 5e-3), (29.5, 6e-3), (29.7, 0.013), (29.9, 0.01), (30.1, 0.015), (30.3, 0.011),
          (30.6, 0.016), (30.9, 0.012), (31.2, 0.018), (31.5, 0.014), (31.8, 0.02), (32.0, 0.012),
          (32.2, 0.025), (32.4, 0.018), (32.6, 0.03), (32.8, 0.022), (33.0, 0.04), (33.2, 0.05),
          (33.4, 0.035), (33.6, 0.07), (33.8, 0.055), (34.0, 0.09), (34.2, 0.07), (34.4, 0.1),
          (34.6, 0.04), (34.8, 0.11), (35.0, 0.085), (35.3, 0.13), (35.6, 0.1), (35.9, 0.16),
          (36.2, 0.12), (36.5, 0.19), (36.8, 0.15), (37.1, 0.22), (37.4, 0.18), (37.7, 0.26),
          (38.0, 0.21), (38.3, 0.28), (38.6, 0.24), (38.9, 0.3), (39.2, 0.26), (39.5, 0.3),
          (39.8, 0.28), (40.1, 0.3), (40.4, 0.25), (40.7, 0.27), (40.9, 0.22)]
K15_GA = [0.5, 3e-3, 0.5, 1e-3, 0.5, 2e-3, 0.5, 8e-4, 0.5, 1.5e-3, 0.5, 7e-4, 0.5, 1e-3, 0.5, 6e-4,
          0.5, 1.2e-3, 0.5, 8e-4, 0.4, 6e-4, 0.2, 8e-4, 0.05, 6e-4, 0.01, 5e-4,
          5e-3, 4.5e-4, 2e-3, 5e-4, 1.2e-3, 4e-4, 9e-4, 5e-4, 7e-4, 4e-4, 6e-4, 3.5e-4, 5e-4, 3e-4,
          5.5e-4, 3.5e-4, 4.5e-4, 3e-4, 4e-4, 3.3e-4, 4.2e-4, 3e-4, 3.8e-4, 3.2e-4, 3.6e-4, 3.2e-4]
K15_GB = [2.6e-4, 3.5e-4, 1.8e-4, 3e-4, 2e-4, 2.8e-4, 1.8e-4, 2.6e-4, 2e-4, 3e-4, 2.2e-4, 3.2e-4,
          2.5e-4, 3.5e-4, 2.6e-4, 3.8e-4, 3e-4, 4e-4, 3.2e-4, 4.5e-4, 3.6e-4, 4.8e-4, 3.8e-4, 5e-4,
          4.2e-4, 5.2e-4, 4.5e-4, 5.5e-4, 4.8e-4, 5.6e-4]

# ---------------- 10 K (linear sigma scale) ----------------
K10_LO = [(14.1, 5.2), (14.3, 6.0), (14.5, 4.6), (14.7, 5.6), (14.9, 6.4), (15.1, 4.3), (15.3, 5.4),
          (15.5, 6.8), (15.7, 5.0), (15.9, 6.2), (16.1, 5.5), (16.3, 6.9), (16.5, 4.8), (16.7, 6.4),
          (16.9, 5.7), (17.1, 7.0), (17.3, 5.2), (17.5, 6.5), (17.7, 5.9), (17.9, 6.8), (18.1, 5.0),
          (18.3, 6.2), (18.5, 4.6), (18.7, 5.7), (18.9, 6.4), (19.1, 4.2), (19.3, 5.5), (19.5, 6.3),
          (19.7, 4.8), (19.9, 5.8), (20.1, 4.4), (20.3, 6.2), (20.5, 5.1), (20.7, 5.8), (20.9, 6.6),
          (21.1, 5.4), (21.3, 6.1), (21.5, 5.0), (21.7, 6.5), (21.9, 5.6), (22.1, 6.8), (22.4, 5.9),
          (22.7, 7.2), (23.0, 6.3), (23.3, 7.4), (23.6, 6.6), (23.9, 7.0), (24.1, 6.2)]
K10_HI = [(29.2, 8.6), (29.4, 10.2), (29.6, 9.4), (29.8, 11.2), (30.0, 10.0), (30.3, 11.8), (30.6, 10.6),
          (30.9, 12.0), (31.2, 11.0), (31.5, 12.4), (31.8, 11.6), (32.1, 13.0), (32.4, 12.2), (32.7, 11.6),
          (33.0, 13.4), (33.3, 12.8), (33.6, 14.0), (33.9, 13.2), (34.2, 14.6), (34.5, 14.0), (34.8, 15.2),
          (35.1, 14.6), (35.4, 15.8), (35.7, 15.0), (36.0, 16.2), (36.3, 15.4), (36.6, 16.8), (36.9, 16.0),
          (37.2, 17.4), (37.5, 16.6), (37.8, 17.8), (38.1, 17.0), (38.4, 18.2), (38.7, 18.4), (39.0, 17.6),
          (39.3, 16.8), (39.6, 17.8), (39.9, 16.4), (40.2, 17.2), (40.5, 16.6), (40.8, 17.0)]
K10_GA = [14.5, 15.5, 13.0, 16.5, 14.0, 17.5, 12.5, 16.0, 12.0, 14.5, 10.5, 13.0, 9.0, 11.0, 7.5, 9.5,
          6.5, 8.0, 5.5, 7.0, 5.0, 6.0, 4.2, 5.5, 3.8, 4.8, 3.6, 4.5, 3.4, 4.2, 3.2, 3.8, 3.0, 3.6, 2.9,
          3.4, 2.8, 3.2, 2.7]
K10_GB = [2.2, 1.4, 2.0, 1.3, 1.9, 1.2, 1.8, 1.3, 2.0, 1.4, 1.9, 1.2, 1.8, 1.5, 2.0, 1.6, 2.3, 1.8, 2.5,
          2.0, 2.6, 2.1, 2.6, 2.3, 2.8, 2.4, 2.9, 2.5, 2.8, 2.7]

# ---------------- 10 K, wide range (bottom right) ----------------
B10_OPEN_LO = [(14.0, 16.3), (14.3, 16.8), (14.6, 16.0), (14.9, 16.6), (15.2, 15.6), (15.5, 16.4),
               (15.8, 16.9), (16.1, 16.2), (16.4, 16.7), (16.7, 16.0), (17.0, 16.5), (17.3, 17.0),
               (17.6, 16.3), (17.9, 16.8), (18.2, 17.1), (18.5, 16.5), (18.8, 16.9), (19.1, 16.4),
               (19.4, 17.0), (19.7, 16.7), (20.0, 17.2), (20.3, 16.6), (20.6, 17.0), (20.9, 16.8),
               (21.2, 17.1), (21.5, 16.7), (21.8, 17.0), (22.1, 16.8), (22.4, 16.6), (22.7, 17.0),
               (23.0, 16.8), (23.4, 16.9), (23.8, 16.7), (24.1, 16.8)]
B10_OPEN_HI = [(29.0, 16.6), (29.3, 16.1), (29.6, 15.6), (29.9, 16.3), (30.2, 15.8), (30.5, 16.2),
               (30.8, 15.5), (31.1, 16.0), (31.4, 15.3), (31.7, 15.9), (32.0, 15.2), (32.3, 15.7),
               (32.6, 15.0), (32.9, 15.5), (33.2, 14.8), (33.5, 15.1), (33.8, 14.3), (34.1, 13.8),
               (34.4, 13.0), (34.7, 12.4), (35.0, 11.6), (35.3, 11.0), (35.6, 10.2), (35.9, 9.6),
               (36.2, 8.8), (36.5, 7.8), (36.7, 7.0), (36.9, 6.2), (37.2, 5.4), (37.5, 4.8), (37.8, 4.4),
               (38.1, 4.0), (38.4, 3.6), (38.7, 3.3), (39.0, 3.5), (39.3, 4.0), (39.6, 3.4), (39.9, 4.4),
               (40.2, 3.8), (40.5, 4.6), (40.8, 4.2)]
B10_DOTTED = [(7.0, 15.9), (10.0, 16.4), (13.0, 16.8), (16.0, 17.0), (20.0, 17.1), (24.0, 17.1),
              (28.0, 17.0), (31.0, 16.6), (33.0, 16.0), (34.5, 15.2), (35.5, 13.8), (36.3, 12.0),
              (37.0, 9.8), (37.8, 7.5), (38.6, 5.8), (39.5, 5.0), (41.0, 4.8), (43.0, 4.9), (45.0, 5.1),
              (47.0, 5.2), (49.0, 4.9), (51.0, 4.5), (53.0, 4.3), (55.0, 4.4), (57.0, 4.6), (59.0, 5.2),
              (61.0, 5.8), (63.0, 6.4), (65.0, 7.0), (67.0, 7.6), (70.0, 8.6)]
B10_DASH = [(37.5, 0.5), (39.0, 1.5), (40.5, 2.6), (42.0, 3.4), (43.5, 4.2), (45.0, 4.7), (46.5, 5.0),
            (48.0, 4.9), (49.5, 4.4), (51.0, 3.6), (52.5, 2.8), (54.0, 2.1), (55.5, 1.4), (57.0, 0.6),
            (58.0, 0.1)]

# ============================ layout / styling ============================
W, H = 1036, 1237
PAD = 8   # page body margin; the figure is sized so the page never overflows the window
FW, FH = W - 2 * PAD, H - 2 * PAD
SERIF = "Liberation Serif"
TICKFONT = dict(family=SERIF, size=25, color="black")
GRAY = "#9a9a9a"


def fx(px):
    return (px - PAD) / FW


def fy(py):
    return 1 - (py - PAD) / FH


ROW_TOPS = [8, 172.3, 336.6, 500.9, 665.2, 829.5, 993.8, 1158.1]
LEFT = (102, 504)
RIGHT = (526, 928)
LOG_TICKS = [1e-3, 1e-2, 1e-1]
LOG_TEXT = ["10<sup>−3</sup>", "10<sup>−2</sup>", "10<sup>−1</sup>"]
MINOR = [m * d for d in (1e-4, 1e-3, 1e-2, 1e-1) for m in range(2, 10)]

# panel: label, column, row, y-kind, label offset below top
PANELS = [
    ("32", "L", 0, "logL", 29), ("31", "L", 1, "logL", 27), ("30", "L", 2, "logL", 33),
    ("29", "L", 3, "logL", 37), ("27", "L", 4, "logL", 40), ("26", "L", 5, "logL", 41),
    ("25", "L", 6, "logL", 44),
    ("24", "R", 0, "logR", 30), ("23", "R", 1, "logR", 44), ("22", "R", 2, "logR", 35),
    ("20", "R", 3, "logR", 40), ("15", "R", 4, "logR", 47), ("10", "R", 5, "lin", 46),
    ("10", "B", 6, "linB", 43),
]

fig = go.Figure()
layout = dict(width=FW, height=FH, margin=dict(l=0, r=0, t=0, b=0, pad=0), autosize=False,
              paper_bgcolor="white", plot_bgcolor="white", showlegend=False, annotations=[])


def names(i):
    s = "" if i == 1 else str(i)
    return "xaxis" + s, "yaxis" + s, "x" + s, "y" + s


for i, (lab, col, row, kind, off) in enumerate(PANELS, start=1):
    xa, ya, xr, yr = names(i)
    if col == "B":
        top, bot = 1027, 1158
        xd = RIGHT
    else:
        top, bot = ROW_TOPS[row], ROW_TOPS[row + 1]
        xd = LEFT if col == "L" else RIGHT
    is_top = row == 0 and col != "B"
    bottom_labels = (col == "L" and row == 6) or (col == "R" and row == 5) or col == "B"
    if col == "B":
        xt = dict(range=[0, 70], tickvals=[0, 20, 40, 60],
                  minor=dict(tickvals=[10, 30, 50], ticks="inside", ticklen=8, tickcolor="black"))
    else:
        xt = dict(range=[0, 45], tickvals=[0, 10, 20, 30, 40],
                  minor=dict(tickvals=[5, 15, 25, 35], ticks="inside", ticklen=8, tickcolor="black"))
    layout[xa] = dict(domain=[fx(xd[0]), fx(xd[1])], anchor=yr, ticks="inside", ticklen=8,
                      tickwidth=1.2, tickcolor="black", showline=True, linecolor="black",
                      linewidth=1.1, mirror=True if (is_top or col == "B") else "ticks",
                      showgrid=False, zeroline=False, showticklabels=bottom_labels,
                      automargin=False, tickfont=TICKFONT, **xt)
    yd = [fy(bot), fy(top)]
    common = dict(domain=yd, anchor=xr, ticks="inside", tickcolor="black", tickwidth=1.2,
                  showline=True, linecolor="black", linewidth=1.1, mirror=True,
                  showgrid=False, zeroline=False, automargin=False, tickfont=TICKFONT)
    if kind == "logL":
        layout[ya] = dict(type="log", range=[-3.7, -0.4], side="left", ticklen=8,
                          tickvals=LOG_TICKS, ticktext=LOG_TEXT,
                          minor=dict(ticks="inside", ticklen=4, tickvals=MINOR, tickcolor="black"),
                          **common)
    elif kind == "logR":
        layout[ya] = dict(type="log", range=[-4.0, -0.16], side="right", ticklen=8,
                          tickvals=LOG_TICKS, ticktext=LOG_TEXT, **common)
    else:
        yr_top = 19.0 if kind == "lin" else 18.7
        layout[ya] = dict(range=[0, yr_top], side="right", ticklen=8, tickvals=[0, 10],
                          minor=dict(tickvals=[5, 15], ticks="inside", ticklen=8, tickcolor="black"),
                          **common)
    lx = 120 if col == "L" else 545
    layout["annotations"].append(dict(text=lab + "&nbsp;&nbsp;K", x=fx(lx), y=fy(top + off),
                                      xref="paper", yref="paper", xanchor="left", yanchor="middle",
                                      showarrow=False, font=dict(family=SERIF, size=23, color="black")))


def tr(i):
    _, _, xr, yr = names(i)
    return dict(xaxis=xr, yaxis=yr)


def dots(i, pts, open_=False):
    xs = [p[0] for p in pts]
    ys = [p[1] for p in pts]
    if open_:
        mk = dict(size=8, color="white", line=dict(color="black", width=1.2))
    else:
        mk = dict(size=8.5, color="black", line=dict(width=0))
    fig.add_trace(go.Scatter(x=xs, y=ys, mode="markers", marker=mk, hoverinfo="skip", **tr(i)))


def curve(i, pts, dash="solid", width=1.3, color="black"):
    xs = [p[0] for p in pts]
    ys = [p[1] for p in pts]
    fig.add_trace(go.Scatter(x=xs, y=ys, mode="lines",
                             line=dict(color=color, width=width, dash=dash, shape="spline", smoothing=0.8),
                             hoverinfo="skip", **tr(i)))


def gray(i, ya_vals, yb_vals, grid=GA):
    xa_part = grid[len(grid) - len(ya_vals):]
    fig.add_trace(go.Scatter(x=list(xa_part) + GB, y=list(ya_vals) + list(yb_vals), mode="lines",
                             line=dict(color=GRAY, width=1.1), hoverinfo="skip", **tr(i)))


SETS = {
    1: (K32_LO, K32_HI, K32_GA, K32_GB, GA), 2: (K31_LO, K31_HI, K31_GA, K31_GB, GA),
    3: (K30_LO, K30_HI, K30_GA, K30_GB, GA), 4: (K29_LO, K29_HI, K29_GA, K29_GB, GA),
    5: (K27_LO, K27_HI, K27_GA, K27_GB, GA), 6: (K26_LO, K26_HI, K26_GA, K26_GB, GA),
    7: (K25_LO, K25_HI, K25_GA, K25_GB, GA), 8: (K24_LO, K24_HI, K24_GA, K24_GB, GA),
    9: (K23_LO, K23_HI, K23_GA, K23_GB, GAF), 10: (K22_LO, K22_HI, K22_GA, K22_GB, GAF),
    11: (K20_LO, K20_HI, K20_GA, K20_GB, GAF), 12: (K15_LO, K15_HI, K15_GA, K15_GB, GAF),
    13: (K10_LO, K10_HI, K10_GA, K10_GB, GA),
}

for i, (lo, hi, ga, gb, grid) in SETS.items():
    if i == 6:
        curve(6, K26_BASE)
        curve(6, K26_DASH1, dash="dash")
        curve(6, K26_DASH2, dash="dash")
        curve(6, K26_FIT)
        curve(6, K26_DOTTED, dash="dot", width=1.8)
    dots(i, lo)
    dots(i, hi)
    gray(i, ga, gb, grid)
    if i == 3:
        curve(3, K30_FIT)
    if i == 6:
        dots(6, K26_OPEN_LO, open_=True)
        dots(6, K26_OPEN_HI, open_=True)
    if i == 11:
        curve(11, K20_DASH, dash="dash")

# bottom wide-range 10 K panel
gray(14, K10_GA, K10_GB)
curve(14, B10_DASH, dash="8px,10px")
curve(14, B10_DOTTED, dash="dot", width=1.8)
dots(14, B10_OPEN_LO, open_=True)
dots(14, B10_OPEN_HI, open_=True)

# axis titles
layout["annotations"] += [
    dict(text="<i>L</i>", x=fx(20), y=fy(56), xref="paper", yref="paper", xanchor="center",
         yanchor="middle", showarrow=False, font=dict(family=SERIF, size=25, color="black")),
    dict(text="ν&nbsp;&nbsp;(cm<sup>−1</sup>)", x=fx(498), y=fy(1226), xref="paper", yref="paper",
         xanchor="center", yanchor="bottom", showarrow=False,
         font=dict(family=SERIF, size=23, color="black")),
    dict(text="σ&nbsp;&nbsp;(Ω<sup>−1</sup> cm<sup>−1</sup>)", x=fx(1013), y=fy(565), xref="paper",
         yref="paper", xanchor="center", yanchor="middle", showarrow=False, textangle=-90,
         font=dict(family=SERIF, size=24, color="black")),
]

fig.update_layout(**layout)
fig.write_html("out.html")
